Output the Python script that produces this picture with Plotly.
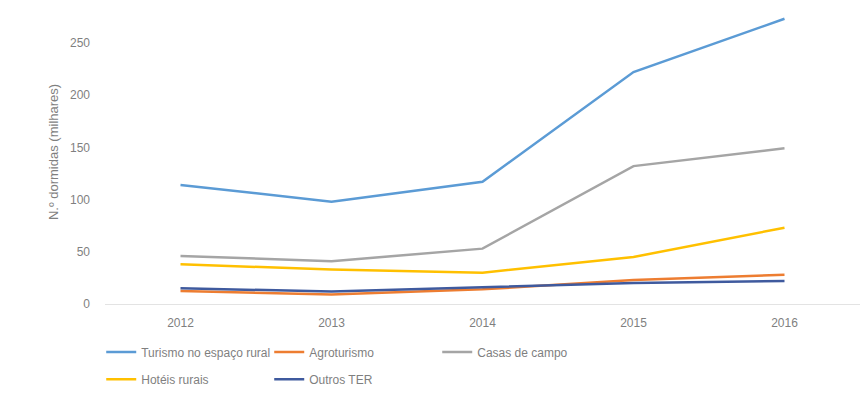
import plotly.graph_objects as go

years = ["2012", "2013", "2014", "2015", "2016"]
turismo = [114, 98, 117, 222, 273]
agroturismo = [12.5, 9, 14, 23, 28]
casas = [46, 41, 53, 132, 149]
hoteis = [38, 33, 30, 45, 73]
outros = [15, 12, 16, 20, 22]

series = [
    ("Turismo no espaço rural", turismo, "#5B9BD5", "legend"),
    ("Agroturismo", agroturismo, "#ED7D31", "legend"),
    ("Casas de campo", casas, "#A5A5A5", "legend"),
    ("Hotéis rurais", hoteis, "#FFC000", "legend2"),
    ("Outros TER", outros, "#3F5A9E", "legend2"),
]
y_ticks = [0, 50, 100, 150, 200, 250]

fig = go.Figure()
for name, vals, color, leg in series:
    fig.add_trace(go.Scatter(x=years, y=vals, mode="lines", name=name,
                             legend=leg,
                             line=dict(color=color, width=2.5)))

font_family = "Liberation Sans, Arial"
leg_common = dict(orientation="h", xanchor="left", yanchor="top",
                  entrywidth=123, entrywidthmode="pixels",
                  font=dict(size=12, color="#7F7F7F"), tracegroupgap=0,
                  bgcolor="rgba(0,0,0,0)")
fig.update_layout(
    width=866, height=401,
    margin=dict(l=105, r=6, t=0, b=97),
    plot_bgcolor="white", paper_bgcolor="white",
    font=dict(family=font_family, size=12, color="#7F7F7F"),
    xaxis=dict(type="category", range=[-0.5, 4.5], showgrid=False, showline=True,
               linecolor="#E3E3E3", linewidth=1, ticks="",
               ticklabelstandoff=8, tickfont=dict(size=12, color="#7F7F7F")),
    yaxis=dict(range=[0, 291], tickvals=y_ticks, showgrid=False,
               zeroline=False, showline=False, ticklabelstandoff=14,
               tickfont=dict(size=12, color="#7F7F7F"),
               title=dict(text="N.º dormidas (milhares)", standoff=8,
                          font=dict(size=13, color="#7F7F7F"))),
    legend=dict(x=-0.005, y=-0.11, **leg_common),
    legend2=dict(x=-0.005, y=-0.20, **leg_common),
    showlegend=True,
)
fig.write_html("out.html")
